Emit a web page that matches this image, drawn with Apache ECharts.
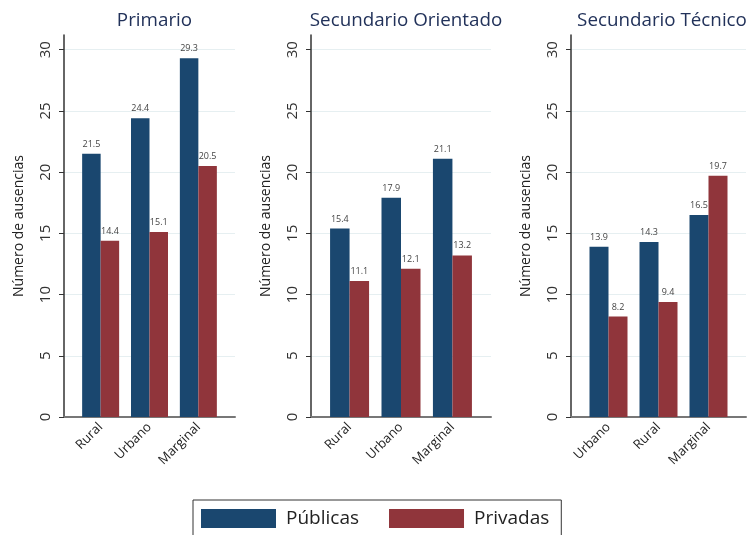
<!DOCTYPE html>
<html>
<head>
<meta charset="utf-8">
<script src="https://cdn.jsdelivr.net/npm/echarts@6/dist/echarts.min.js"></script>
<style>
  html, body { margin: 0; padding: 0; background: #fff; }
</style>
</head>
<body>
<div id="main" style="width: 748px; height: 535px;"></div>
<script>
// títulos de cada panel
var titulos = ["Primario", "Secundario Orientado", "Secundario Técnico"];
// categorías (el tercer panel tiene otro orden)
var cats1 = ["Rural", "Urbano", "Marginal"];
var cats2 = ["Rural", "Urbano", "Marginal"];
var cats3 = ["Urbano", "Rural", "Marginal"];
// valores
var publicas1 = [21.5, 24.4, 29.3];
var privadas1 = [14.4, 15.1, 20.5];
var publicas2 = [15.4, 17.9, 21.1];
var privadas2 = [11.1, 12.1, 13.2];
var publicas3 = [13.9, 14.3, 16.5];
var privadas3 = [8.2, 9.4, 19.7];
var yTicks = [0, 5, 10, 15, 20, 25, 30];

var FONT = "Open Sans";
var azul = "#1a476f";
var rojo = "#90353b";

var paneles = [
  { cats: cats1, pub: publicas1, pri: privadas1, left: 64, width: 171, bw: 18.5 },
  { cats: cats2, pub: publicas2, pri: privadas2, left: 311, width: 180, bw: 19.5 },
  { cats: cats3, pub: publicas3, pri: privadas3, left: 571, width: 175, bw: 19 },
];

function pares(arr) {
  return arr.map(function (v, i) { return [i, v]; });
}

var grid = [], xAxis = [], yAxis = [], series = [], title = [];
paneles.forEach(function (p, k) {
  grid.push({ left: p.left, width: p.width, top: 35, height: 382 });
  title.push({
    text: titulos[k],
    left: p.left + p.width / 2 - (k === 2 ? 1.5 : 0),
    textAlign: "center",
    top: 6,
    textStyle: { fontFamily: FONT, fontSize: 18.8, fontWeight: "normal", color: "#22325a" },
  });
  xAxis.push({
    gridIndex: k,
    type: "value",
    min: -0.75,
    max: 2.75,
    axisLine: { show: true, onZero: false, lineStyle: { color: "#777", width: 2 } },
    axisTick: { show: false },
    splitLine: { show: false },
    axisLabel: {
      customValues: [0, 1, 2],
      rotate: 45,
      margin: 8,
      fontFamily: FONT,
      fontSize: 13,
      color: "#222",
      formatter: function (v) { return p.cats[v]; },
    },
  });
  yAxis.push({
    gridIndex: k,
    type: "value",
    min: 0,
    max: 31.2,
    name: "Número de ausencias",
    nameLocation: "middle",
    nameGap: 38,
    nameTextStyle: { fontFamily: FONT, fontSize: 14, color: "#222" },
    axisLine: { show: true, onZero: false, lineStyle: { color: "#333", width: 1.5 } },
    axisTick: { show: true, length: 5, customValues: yTicks, lineStyle: { color: "#333" } },
    axisLabel: { customValues: yTicks, rotate: 90, margin: 11, fontFamily: FONT, fontSize: 15, color: "#333" },
    splitLine: { show: true, lineStyle: { color: "#e6eff1", width: 1 } },
  });
  var lbl = {
    show: true,
    position: "top",
    distance: 5,
    fontFamily: FONT,
    fontSize: 9,
    color: "#444",
    formatter: function (d) { return d.value[1].toFixed(1); },
  };
  series.push({
    name: "Públicas", type: "bar", xAxisIndex: k, yAxisIndex: k,
    data: pares(p.pub), barWidth: p.bw, barGap: "0%",
    itemStyle: { color: azul }, label: lbl,
  });
  series.push({
    name: "Privadas", type: "bar", xAxisIndex: k, yAxisIndex: k,
    data: pares(p.pri), barWidth: p.bw, barGap: "0%",
    itemStyle: { color: rojo }, label: lbl,
  });
});

var myChart = echarts.init(document.getElementById("main"));
myChart.setOption({
  animation: false,
  title: title,
  grid: grid,
  xAxis: xAxis,
  yAxis: yAxis,
  series: series,
  legend: {
    data: ["Públicas", "Privadas"],
    left: 193,
    top: 500,
    padding: [9, 12, 12, 8],
    borderColor: "#333",
    borderWidth: 1,
    borderRadius: 0,
    icon: "rect",
    itemWidth: 75,
    itemHeight: 19,
    itemGap: 30,
    textStyle: { fontFamily: FONT, fontSize: 19, color: "#222", padding: [0, 0, 0, 5] },
  },
});
</script>
</body>
</html>
